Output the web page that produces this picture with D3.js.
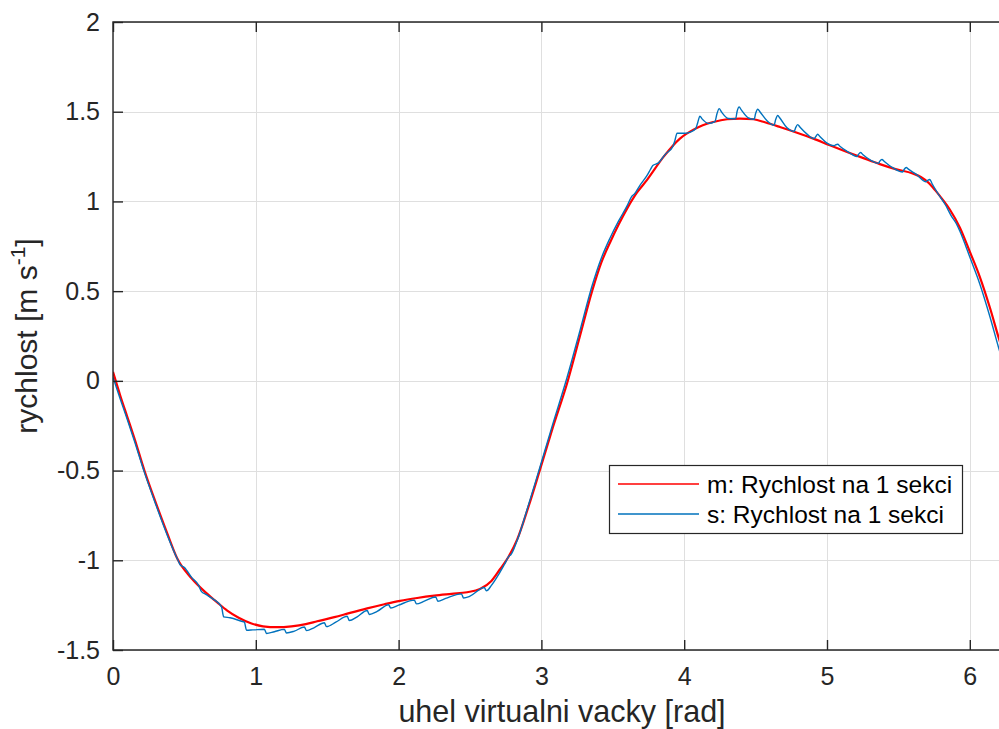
<!DOCTYPE html>
<html>
<head>
<meta charset="utf-8">
<script src="https://cdn.jsdelivr.net/npm/d3@7/dist/d3.min.js"></script>
<style>
  html, body { margin: 0; padding: 0; background: #fff; overflow: hidden; }
  svg { display: block; font-family: "Liberation Sans", Arial, Helvetica, sans-serif; }
</style>
</head>
<body>
<svg id="chart" width="999" height="729"></svg>
<script>
// ---- data ----
const xTicks = [0, 1, 2, 3, 4, 5, 6];
const xTickLabels = ["0", "1", "2", "3", "4", "5", "6"];
const yTicks = [-1.5, -1, -0.5, 0, 0.5, 1, 1.5, 2];
const yTickLabels = ["-1.5", "-1", "-0.5", "0", "0.5", "1", "1.5", "2"];
const seriesNames = ["m: Rychlost na 1 sekci", "s: Rychlost na 1 sekci"];
const seriesColors = ["#FF0000", "#0072BD"];

// m: smooth velocity [x (rad), y (m/s)]
const mSeries = [
  [0,0.05],[0.05,-0.08],[0.1,-0.2],[0.15,-0.32],[0.22,-0.5],[0.3,-0.68],[0.38,-0.85],
  [0.45,-0.99],[0.55,-1.1],[0.65,-1.18],[0.73,-1.235],[0.8,-1.28],[0.88,-1.32],
  [0.97,-1.352],[1.05,-1.368],[1.15,-1.373],[1.25,-1.368],[1.35,-1.356],[1.43,-1.34],
  [1.55,-1.317],[1.66,-1.293],[1.78,-1.268],[1.9,-1.245],[2.01,-1.226],[2.13,-1.21],
  [2.25,-1.197],[2.37,-1.187],[2.48,-1.178],[2.57,-1.16],[2.65,-1.115],[2.71,-1.05],
  [2.77,-0.98],[2.83,-0.885],[2.91,-0.7],[2.99,-0.495],[3.08,-0.26],[3.18,-0.013],
  [3.27,0.25],[3.355,0.5],[3.42,0.66],[3.48,0.77],[3.54,0.87],[3.6,0.96],[3.67,1.05],
  [3.74,1.12],[3.855,1.248],[3.97,1.35],[4.065,1.4],[4.13,1.425],[4.205,1.443],
  [4.3,1.458],[4.39,1.462],[4.485,1.458],[4.57,1.44],[4.67,1.415],[4.79,1.383],
  [4.905,1.35],[5.02,1.313],[5.14,1.276],[5.26,1.24],[5.37,1.208],[5.48,1.18],
  [5.6,1.156],[5.66,1.135],[5.71,1.105],[5.76,1.06],[5.81,1.01],[5.86,0.955],
  [5.93,0.855],[6.0,0.72],[6.07,0.58],[6.14,0.41],[6.2,0.246],[6.283,0.03]
];

// s: measured velocity with ripple [x (rad), y (m/s)]
const sSeries = [
  [0,0.02],[0.05,-0.1],[0.1,-0.215],[0.15,-0.335],[0.22,-0.51],[0.3,-0.69],[0.38,-0.86],
  [0.455,-1.0],[0.47,-1.025],[0.5,-1.04],[0.55,-1.095],[0.6,-1.14],[0.62,-1.175],
  [0.65,-1.19],[0.7,-1.215],[0.76,-1.26],[0.775,-1.315],[0.82,-1.32],[0.9,-1.34],
  [0.92,-1.345],[0.935,-1.39],[0.98,-1.388],[1.06,-1.384],[1.075,-1.408],[1.13,-1.398],
  [1.2,-1.385],[1.215,-1.405],[1.27,-1.395],[1.34,-1.372],[1.355,-1.392],[1.41,-1.375],
  [1.48,-1.348],[1.495,-1.37],[1.56,-1.345],[1.64,-1.312],[1.655,-1.336],[1.71,-1.315],
  [1.78,-1.28],[1.795,-1.302],[1.85,-1.285],[1.93,-1.248],[1.945,-1.266],[2.0,-1.25],
  [2.11,-1.222],[2.125,-1.243],[2.18,-1.228],[2.26,-1.205],[2.275,-1.228],[2.33,-1.212],
  [2.44,-1.187],[2.455,-1.21],[2.5,-1.2],[2.6,-1.152],[2.615,-1.17],[2.65,-1.14],
  [2.7,-1.08],[2.74,-1.025],[2.775,-0.975],[2.785,-0.97],[2.83,-0.89],[2.91,-0.69],
  [2.99,-0.48],[3.08,-0.24],[3.18,0.02],[3.27,0.28],[3.355,0.53],[3.42,0.685],
  [3.48,0.795],[3.54,0.89],[3.6,0.975],[3.635,1.03],[3.65,1.04],[3.69,1.09],[3.74,1.145],
  [3.765,1.18],[3.78,1.2],[3.82,1.215],[3.87,1.265],[3.92,1.305],[3.935,1.34],[3.95,1.38],
  [4.0,1.38],[4.04,1.385],[4.08,1.405],[4.095,1.44],[4.11,1.475],[4.125,1.46],[4.17,1.435],
  [4.215,1.445],[4.23,1.49],[4.245,1.517],[4.26,1.5],[4.31,1.462],[4.36,1.46],[4.37,1.5],
  [4.385,1.526],[4.4,1.51],[4.45,1.465],[4.49,1.458],[4.5,1.49],[4.515,1.514],[4.53,1.5],
  [4.58,1.45],[4.63,1.425],[4.64,1.455],[4.655,1.479],[4.67,1.465],[4.72,1.41],[4.77,1.39],
  [4.78,1.41],[4.795,1.428],[4.81,1.415],[4.86,1.375],[4.91,1.35],[4.92,1.36],[4.935,1.374],
  [4.95,1.362],[5.0,1.325],[5.05,1.31],[5.06,1.315],[5.075,1.319],[5.09,1.308],[5.15,1.275],
  [5.21,1.25],[5.22,1.262],[5.235,1.273],[5.25,1.262],[5.31,1.228],[5.36,1.212],[5.37,1.225],
  [5.385,1.234],[5.4,1.224],[5.46,1.188],[5.53,1.164],[5.54,1.178],[5.555,1.189],[5.57,1.18],
  [5.63,1.148],[5.69,1.11],[5.705,1.118],[5.72,1.122],[5.735,1.1],[5.78,1.04],[5.83,0.98],
  [5.87,0.92],[5.905,0.877],[5.93,0.835],[6.0,0.69],[6.07,0.54],[6.14,0.36],[6.2,0.19],
  [6.283,-0.03]
];

// ---- layout ----
const svg = d3.select("#chart");
const pLeft = 113, pTop = 22, pBottom = 650;
const xDomain = [0, 2 * Math.PI];
const yDomain = [-1.5, 2];
const x = d3.scaleLinear().domain(xDomain).range([pLeft, pLeft + 142.8 * (2 * Math.PI)]);
const y = d3.scaleLinear().domain(yDomain).range([pBottom, pTop]);
const pRight = x(xDomain[1]);
const axisColor = "#262626";

svg.append("defs").append("clipPath").attr("id", "clip")
  .append("rect").attr("x", pLeft).attr("y", pTop).attr("width", pRight - pLeft).attr("height", pBottom - pTop);

// grid
const grid = svg.append("g");
grid.selectAll("line.gx").data(xTicks).join("line")
  .attr("x1", d => Math.round(x(d)) + 0.5).attr("x2", d => Math.round(x(d)) + 0.5)
  .attr("y1", pTop).attr("y2", pBottom)
  .attr("stroke", "#dfdfdf").attr("stroke-width", 1);
grid.selectAll("line.gy").data(yTicks).join("line")
  .attr("y1", d => Math.round(y(d)) + 0.5).attr("y2", d => Math.round(y(d)) + 0.5)
  .attr("x1", pLeft).attr("x2", pRight)
  .attr("stroke", "#dfdfdf").attr("stroke-width", 1);

// lines
const line = d3.line().x(d => x(d[0])).y(d => y(d[1])).curve(d3.curveMonotoneX);
const plot = svg.append("g").attr("clip-path", "url(#clip)");
plot.append("path").datum(mSeries).attr("d", line)
  .attr("fill", "none").attr("stroke", seriesColors[0]).attr("stroke-width", 2.2);
plot.append("path").datum(sSeries).attr("d", line)
  .attr("fill", "none").attr("stroke", seriesColors[1]).attr("stroke-width", 1.4);

// axes
const fontTick = 25;
function styleAxis(g) {
  g.select(".domain").remove();
  g.selectAll(".tick line").attr("stroke", axisColor).attr("stroke-width", 1.4);
  g.selectAll(".tick text").attr("fill", axisColor).attr("font-size", fontTick)
    .attr("font-family", "'Liberation Sans', Arial, sans-serif");
}
const gx = svg.append("g").attr("transform", `translate(0,${pBottom})`)
  .call(d3.axisBottom(x).tickValues(xTicks).tickSizeInner(-10).tickSizeOuter(0).tickPadding(17)
    .tickFormat((d, i) => xTickLabels[i]));
styleAxis(gx);
const gxt = svg.append("g").attr("transform", `translate(0,${pTop})`)
  .call(d3.axisTop(x).tickValues(xTicks).tickSizeInner(-10).tickSizeOuter(0).tickFormat(""));
styleAxis(gxt);
const gy = svg.append("g").attr("transform", `translate(${pLeft},0)`)
  .call(d3.axisLeft(y).tickValues(yTicks).tickSizeInner(-10).tickSizeOuter(0).tickPadding(13)
    .tickFormat((d, i) => yTickLabels[i]));
styleAxis(gy);

// box
svg.append("path")
  .attr("d", `M${pRight},${pTop}H${pLeft}V${pBottom}H${pRight}`)
  .attr("fill", "none").attr("stroke", axisColor).attr("stroke-width", 1.4);

// axis labels
svg.append("text").attr("x", 562).attr("y", 722).attr("text-anchor", "middle")
  .attr("font-size", 30.5).attr("fill", axisColor).text("uhel virtualni vacky [rad]");
const yl = svg.append("text").attr("transform", "translate(37,336) rotate(-90)")
  .attr("text-anchor", "middle").attr("font-size", 30).attr("fill", axisColor);
yl.append("tspan").text("rychlost [m s");
yl.append("tspan").attr("font-size", 21).attr("dy", -12).text("-1");
yl.append("tspan").attr("dy", 12).text("]");

// legend
const lg = svg.append("g");
lg.append("rect").attr("x", 609.5).attr("y", 465.5).attr("width", 353).attr("height", 68)
  .attr("fill", "#fff").attr("stroke", axisColor).attr("stroke-width", 1.2);
const legendRows = [484, 514];
seriesNames.forEach((name, i) => {
  lg.append("line").attr("x1", 618).attr("x2", 699).attr("y1", legendRows[i]).attr("y2", legendRows[i])
    .attr("stroke", seriesColors[i]).attr("stroke-width", i === 0 ? 1.6 : 1.4);
  lg.append("text").attr("x", 707).attr("y", legendRows[i]).attr("dy", "0.36em")
    .attr("font-size", 24.5).attr("fill", "#000").text(name);
});
</script>
</body>
</html>
